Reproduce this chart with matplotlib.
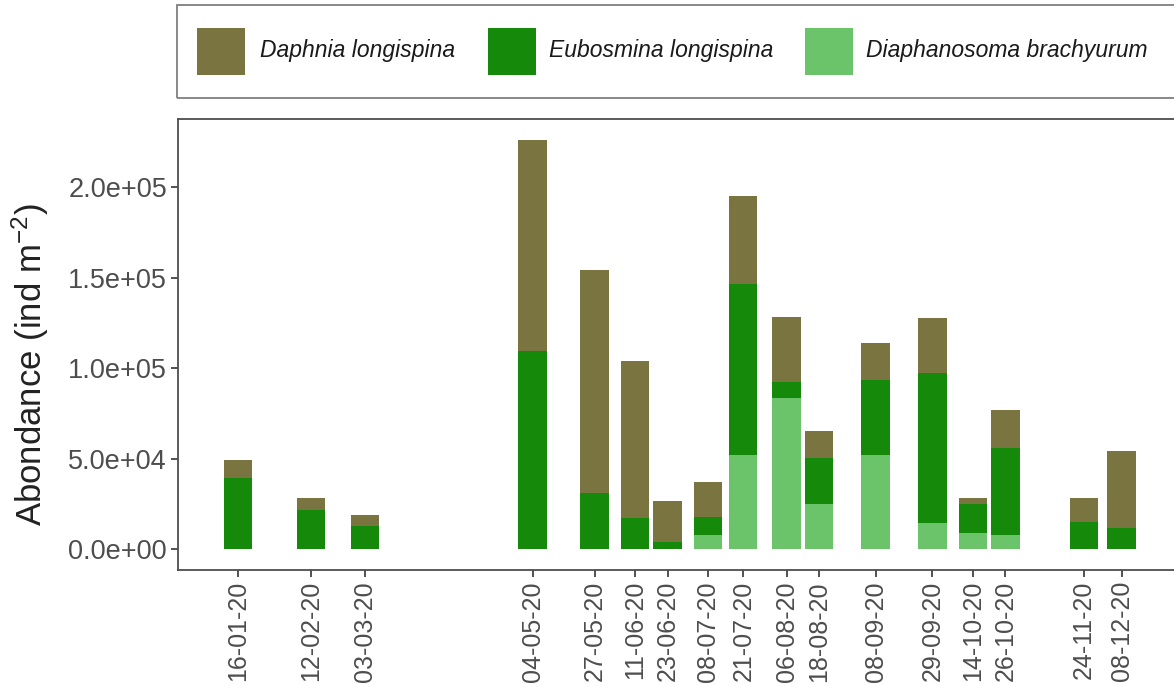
import matplotlib
matplotlib.use("Agg")
import matplotlib.pyplot as plt
import matplotlib.dates as mdates
from matplotlib.patches import Rectangle
from matplotlib.ticker import FuncFormatter
from datetime import datetime, timedelta

plt.rcParams['font.family'] = ['Liberation Sans', 'DejaVu Sans']
plt.rcParams['mathtext.fontset'] = 'custom'
plt.rcParams['mathtext.rm'] = 'Liberation Sans'
plt.rcParams['mathtext.it'] = 'Liberation Sans:italic'
plt.rcParams['mathtext.default'] = 'regular'

# ---- data ----
dates = ["16-01-20", "12-02-20", "03-03-20", "04-05-20", "27-05-20", "11-06-20",
         "23-06-20", "08-07-20", "21-07-20", "06-08-20", "18-08-20", "08-09-20",
         "29-09-20", "14-10-20", "26-10-20", "24-11-20", "08-12-20"]
diaphanosoma = [0, 0, 0, 0, 0, 0, 0, 7900, 52000, 83300, 24800, 52000,
                14300, 8800, 7900, 0, 0]
eubosmina = [39500, 21700, 12900, 109600, 30900, 17100, 4200, 10100, 94400, 9200,
             25400, 41400, 82800, 16000, 47800, 15200, 11600]
daphnia = [9800, 6800, 5900, 116300, 123100, 86900, 22600, 19300, 48600, 35900,
           15100, 20600, 30400, 3700, 21200, 12900, 42800]
species = ["Daphnia longispina", "Eubosmina longispina", "Diaphanosoma brachyurum"]
colors = {"Daphnia longispina": "#7a7540",
          "Eubosmina longispina": "#158a0a",
          "Diaphanosoma brachyurum": "#6cc46a"}
yticks = [0, 50000, 100000, 150000, 200000]

W, H = 1174, 685
fig = plt.figure(figsize=(W / 100, H / 100), dpi=100)

x0, x1, ytop, ybot = 178, 1181, 119.3, 570
ax = fig.add_axes([x0 / W, 1 - ybot / H, (x1 - x0) / W, (ybot - ytop) / H])

dts = [datetime.strptime(d, "%d-%m-%y") for d in dates]
xn = mdates.date2num(dts)
bw = 10.5

bottom1 = diaphanosoma
bottom2 = [a + b for a, b in zip(diaphanosoma, eubosmina)]
ax.bar(xn, diaphanosoma, width=bw, color=colors[species[2]], linewidth=0)
ax.bar(xn, eubosmina, width=bw, bottom=bottom1, color=colors[species[1]], linewidth=0)
ax.bar(xn, daphnia, width=bw, bottom=bottom2, color=colors[species[0]], linewidth=0)

ax.set_xlim(mdates.date2num(dts[0] - timedelta(days=22.2)),
            mdates.date2num(dts[-1] + timedelta(days=22)))
ax.set_ylim(-11400, 237300)

ax.set_xticks(xn)
ax.set_xticklabels(dates, rotation=90, fontsize=18, color="#4d4d4d")
ax.set_yticks(yticks)
ax.yaxis.set_major_formatter(FuncFormatter(lambda v, p: f"{v:.1e}"))
for lab in ax.get_yticklabels():
    lab.set_fontsize(19.5)
    lab.set_color("#4d4d4d")
ax.tick_params(axis='both', length=5, width=1.2, color="#333333", pad=3)
for s in ax.spines.values():
    s.set_color("#4d4d4d")
    s.set_linewidth(1.3)

fig.text(30 / W, 1 - 365 / H, "Abondance (ind m$^{-2}$)", rotation=90,
         fontsize=25, color="#222222", ha="center", va="center")

# legend box
lx0, lx1, ly0, ly1 = 177, 1181, 5, 98
fig.patches.append(Rectangle((lx0 / W, 1 - ly1 / H), (lx1 - lx0) / W, (ly1 - ly0) / H,
                             transform=fig.transFigure, fill=False,
                             edgecolor="#7f7f7f", linewidth=1.3))
key_x = [197, 488, 805]
txt_x = [260, 549, 866]
for sp, kx, tx in zip(species, key_x, txt_x):
    fig.patches.append(Rectangle((kx / W, 1 - 75 / H), 48 / W, 47 / H,
                                 transform=fig.transFigure, facecolor=colors[sp],
                                 edgecolor="none"))
    fig.text(tx / W, 1 - 50 / H, sp, fontsize=16.5, style="italic",
             color="#1a1a1a", ha="left", va="center")

fig.savefig("out.png", dpi=100)
